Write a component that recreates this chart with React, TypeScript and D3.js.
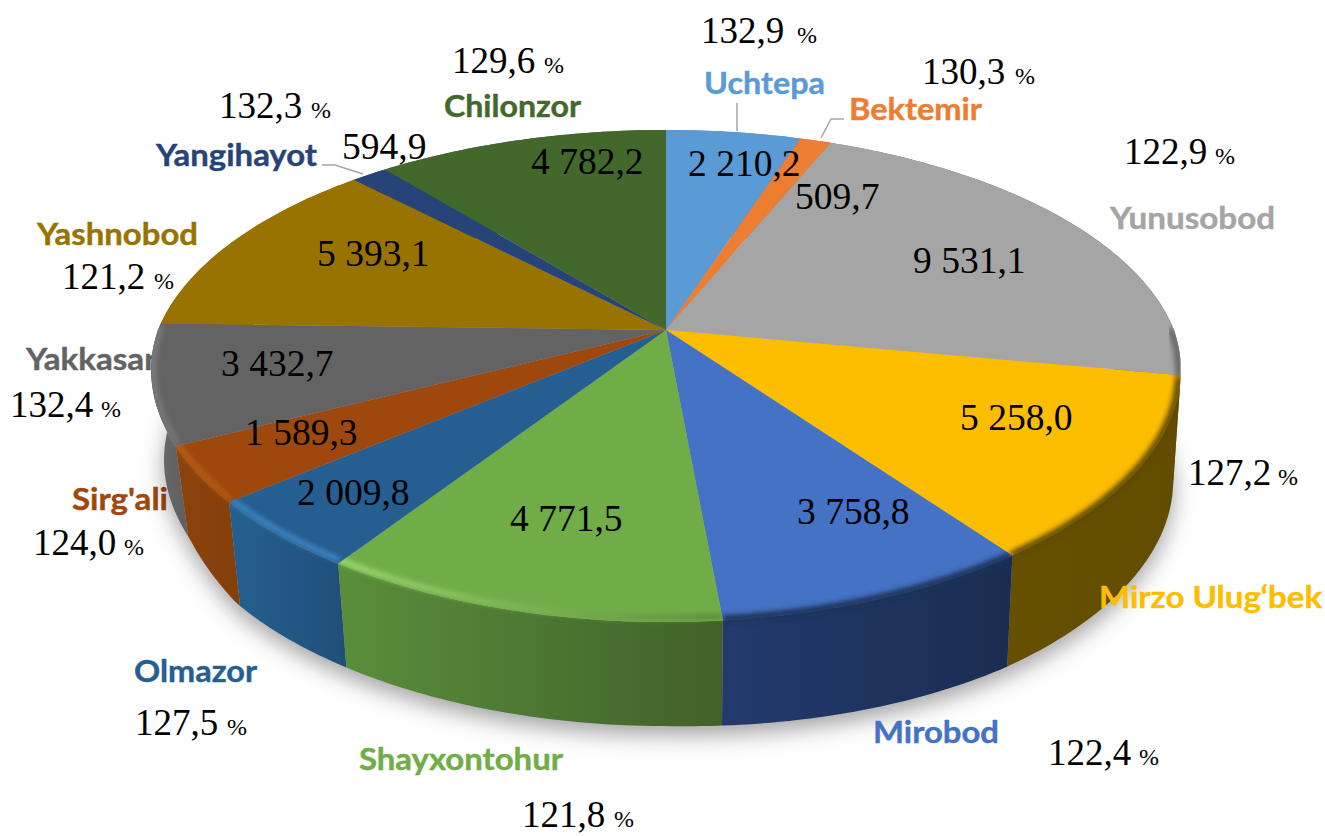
import React from "react";
import * as d3 from "d3";

const districts = ["Uchtepa", "Bektemir", "Yunusobod", "Mirzo Ulug‘bek", "Mirobod", "Shayxontohur", "Olmazor", "Sirg'ali", "Yakkasaroy", "Yashnobod", "Yangihayot", "Chilonzor"];
const volumes = [2210.2, 509.7, 9531.1, 5258.0, 3758.8, 4771.5, 2009.8, 1589.3, 3432.7, 5393.1, 594.9, 4782.2];
const volumeLabels = ["2 210,2", "509,7", "9 531,1", "5 258,0", "3 758,8", "4 771,5", "2 009,8", "1 589,3", "3 432,7", "5 393,1", "594,9", "4 782,2"];
const growthLabels = ["132,9", "130,3", "122,9", "127,2", "122,4", "121,8", "127,5", "124,0", "132,4", "121,2", "132,3", "129,6"];

const topColors = ["#5b9bd5", "#ed7d31", "#a5a5a5", "#fdbd00", "#4472c4", "#70ad47", "#255e91", "#9e480e", "#636363", "#997300", "#264478", "#43682b"];
const wallLeft = ["#5b9bd5", "#ed7d31", "#777777", "#665000", "#233a6e", "#5a8e3a", "#26608f", "#8c420c", "#6a6a6a", "#997300", "#264478", "#43682b"];
const wallRight = ["#4d86b8", "#c96a2a", "#666666", "#624c00", "#1a2d50", "#40612a", "#1f4f79", "#84400b", "#5f5f5f", "#7a5c00", "#1d355e", "#365522"];
const rimStart = [null, null, "#66666a", "#5f4900", "#1c3059", "#a0dd74", "#3f86c4", "#bf5f18", "#808080", null, null, null];
const rimEnd = [null, null, "#66666a", "#5f4900", "#1c3059", "#5a8a3a", "#3f86c4", "#b3560f", "#707070", null, null, null];

// hand placed label layout: [x, baseline, width]
const nameLayout = [[704, 94, 121], [849, 120, 133], [1110, 229, 165], [1099, 608, 223], [873, 743, 126], [359, 770, 204], [134, 682, 123], [72, 510, 96], [26, 370, 166], [37, 245, 161], [156, 166, 161], [444, 117, 137]];
const valueLayout = [[688, 176], [795, 209], [913, 273], [960, 430], [797, 524], [510, 531], [297, 505], [245, 445], [221, 376], [317, 266], [342, 159], [531, 174]];
const growthLayout = [[702, 43, 798], [923, 84, 1016], [1125, 164, 1216], [1189, 485, 1279], [1049, 765, 1140], [523, 827, 615], [136, 735, 228], [34, 555, 125], [11, 417, 102], [63, 289, 155], [220, 118, 312], [453, 73, 545]];
const underPie = [7, 8];
const leaders = [
  [[737, 103], [737, 131]],
  [[844, 119], [831, 119], [821, 138]],
  [[322, 165], [335, 165], [363, 174]],
];

const CX = 666, CY = 330, R = 508, K = 237.4, P = 0.187, DEPTH = 104, FRONT_NARROW = 0.025;

type Pt = [number, number];
const project = (a: number): Pt => {
  const u = Math.sin(a), v = -Math.cos(a);
  const s = 1 / (1 - P * v);
  return [CX + R * u * s * (1 - FRONT_NARROW * Math.max(v, 0)), CY + K * v * s];
};
const clamp01 = (t: number) => Math.max(0, Math.min(1, t));
const lower = ([x, y]: Pt): Pt => {
  const depth = x < CX
    ? DEPTH - 14 * clamp01((500 - y) / 53)
    : DEPTH + 7 * clamp01((x - CX) / 340);
  return [CX + (x - CX) * (x < CX ? 0.975 : 0.985), y + depth];
};
const line = d3.line<Pt>();
const arcPoints = (a0: number, a1: number): Pt[] => {
  const n = Math.max(4, Math.ceil((a1 - a0) * 60));
  return d3.range(n + 1).map((i) => project(a0 + ((a1 - a0) * i) / n));
};

const arcs = d3.pie<number>().sort(null).startAngle(0).endAngle(Math.PI * 2)(volumes);
const slices = arcs.map((d, i) => {
  const rim = arcPoints(d.startAngle, d.endAngle);
  const top = line([[CX, CY], ...rim])! + "Z";
  const wallPts: Pt[] = [...rim, ...rim.slice().reverse().map(lower)];
  const wall = line(wallPts)! + "Z";
  const xs = wallPts.map((p) => p[0]);
  const mid = (d.startAngle + d.endAngle) / 2;
  return { i, rim, top, wall, x0: d3.min(xs)!, x1: d3.max(xs)!, depth: -Math.cos(mid) };
});
const allRim = arcPoints(0, Math.PI * 2);
const silhouette = line(allRim.map(lower))! + "Z";
const wallOrder = d3.sort(slices, (s) => s.depth);

const NAME_FONT = "Lato, 'Open Sans', sans-serif";
const NUM_FONT = "'Liberation Serif', serif";

const Name = ({ i }: { i: number }) => {
  const [x, y, w] = nameLayout[i];
  return (
    <text x={x} y={y} fontFamily={NAME_FONT} fontWeight={700} fontSize={30} fill={topColors[i]} stroke={topColors[i]} strokeWidth={0.4} textLength={w} lengthAdjust="spacingAndGlyphs">
      {districts[i]}
    </text>
  );
};

export default function App() {
  return (
    <svg width={1325} height={836} viewBox="0 0 1325 836" style={{ position: "absolute", left: 0, top: 0, display: "block", background: "#fff" }}>
      <defs>
        <filter id="shadow" x="-10%" y="-10%" width="120%" height="130%"><feGaussianBlur stdDeviation="11" /></filter>
        <filter id="rimBlur" x="-10%" y="-30%" width="120%" height="160%"><feGaussianBlur stdDeviation="2.6" /></filter>
        {slices.map((s) => (
          <linearGradient key={s.i} id={`wall${s.i}`} gradientUnits="userSpaceOnUse" x1={s.x0} x2={s.x1} y1={0} y2={0}>
            <stop offset="0" stopColor={wallLeft[s.i]} />
            <stop offset="1" stopColor={wallRight[s.i]} />
          </linearGradient>
        ))}
        {slices.map((s) => rimStart[s.i] && (
          <linearGradient key={s.i} id={`rim${s.i}`} gradientUnits="userSpaceOnUse" x1={s.x0} x2={s.x1} y1={0} y2={0}>
            <stop offset="0" stopColor={rimStart[s.i]!} />
            <stop offset="1" stopColor={rimEnd[s.i]!} />
          </linearGradient>
        ))}
        {slices.map((s) => (
          <clipPath key={s.i} id={`clip${s.i}`}>
            <path d={s.top} />
            <path d={s.wall} />
          </clipPath>
        ))}
      </defs>

      {underPie.map((i) => <Name key={i} i={i} />)}

      <path d={silhouette} transform="translate(0,9)" fill="#000" fillOpacity={0.36} filter="url(#shadow)" />

      {wallOrder.map((s) => <path key={s.i} d={s.wall} fill={`url(#wall${s.i})`} />)}
      {slices.map((s) => <path key={s.i} d={s.top} fill={topColors[s.i]} />)}
      {slices.map((s) => {
        if (!rimStart[s.i]) return null;
        const light = s.i >= 5;
        const rimPts = s.rim.filter(([, y]) => y > 325);
        return (
          <g key={s.i} clipPath={`url(#clip${s.i})`}>
            <path
              d={line(rimPts.map(([x, y]) => [x + (CX - x) * 0.004, y + (CY - y) * 0.012] as Pt))!}
              transform={light ? "translate(0,-1)" : "translate(0,2)"}
              fill="none"
              stroke={`url(#rim${s.i})`}
              strokeWidth={light ? 5.5 : 7}
              filter="url(#rimBlur)"
            />
          </g>
        );
      })}

      {leaders.map((pts, i) => (
        <path key={i} d={line(pts as Pt[])!} fill="none" stroke="#a6a6a6" strokeWidth={1.5} />
      ))}

      {districts.map((_, i) => (underPie.includes(i) ? null : <Name key={i} i={i} />))}

      {volumeLabels.map((t, i) => (
        <text key={i} x={valueLayout[i][0]} y={valueLayout[i][1]} fontFamily={NUM_FONT} fontSize={37.5} fill="#000">{t}</text>
      ))}
      {growthLabels.map((t, i) => (
        <g key={i} fontFamily={NUM_FONT} fill="#000">
          <text x={growthLayout[i][0] - 1} y={growthLayout[i][1]} fontSize={37}>{t}</text>
          <text x={growthLayout[i][2] - 1} y={growthLayout[i][1]} fontSize={24}>%</text>
        </g>
      ))}
    </svg>
  );
}
